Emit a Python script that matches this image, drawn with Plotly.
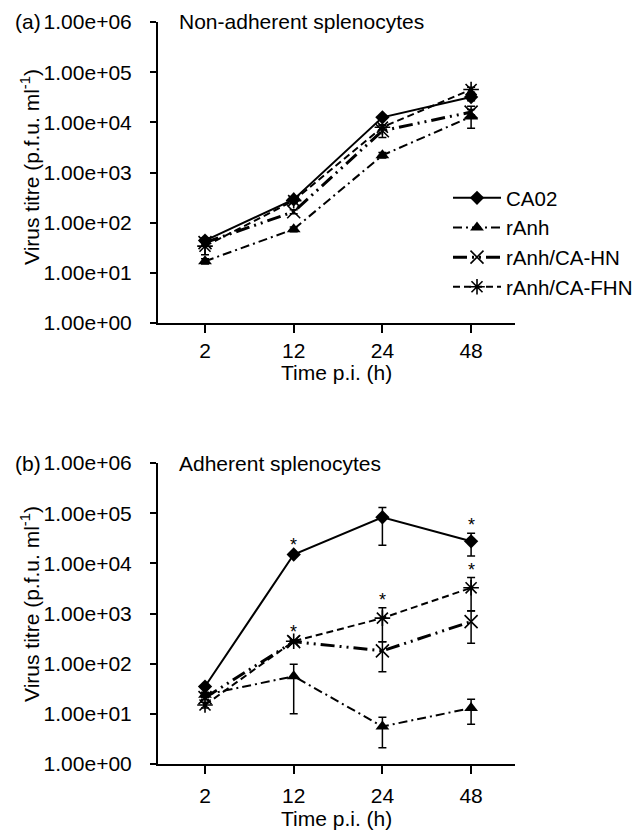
import math
import plotly.graph_objects as go

W, H = 640, 831

times = ["2", "12", "24", "48"]
xpos = [0, 1, 2, 3]
ytick_vals = [1, 10, 100, 1000, 10000, 100000, 1000000]
ytick_text = ["1.00e+00", "1.00e+01", "1.00e+02", "1.00e+03", "1.00e+04", "1.00e+05", "1.00e+06"]

series_names = ["CA02", "rAnh", "rAnh/CA-HN", "rAnh/CA-FHN"]

# Panel (a): non-adherent splenocytes
a_ca02 = [44, 290, 12600, 32000]
a_ca02_up = [50, 320, 13500, 38000]
a_ca02_lo = [39, 260, 11500, 27000]
a_ranh = [17, 74, 2200, 13000]
a_ranh_up = [19, 82, 2500, 21000]
a_ranh_lo = [15, 66, 1950, 7600]
a_hn = [40, 165, 6800, 16000]
a_hn_up = [44, 180, 8500, 18000]
a_hn_lo = [36, 150, 5000, 14000]
a_fhn = [34, 275, 8000, 45000]
a_fhn_up = [50, 300, 9000, 50000]
a_fhn_lo = [23, 250, 7000, 40000]

# Panel (b): adherent splenocytes
b_ca02 = [35, 15000, 83000, 27500]
b_ca02_up = [38, 16000, 130000, 40000]
b_ca02_lo = [32, 14000, 23000, 14000]
b_ranh = [24, 56, 5.6, 13]
b_ranh_up = [27, 97, 8.5, 19.5]
b_ranh_lo = [21, 10, 2.1, 6.2]
b_hn = [21, 275, 180, 690]
b_hn_up = [23, 290, 275, 1120]
b_hn_lo = [19, 260, 69, 255]
b_fhn = [15, 280, 810, 3250]
b_fhn_up = [17, 300, 1300, 5200]
b_fhn_lo = [13, 260, 275, 1130]

# significance markers in panel (b): (series index, time index)
sig_series = [0, 0, 3, 3, 3]
sig_time = [1, 3, 1, 2, 3]

FONT = "Liberation Sans, Arial, Helvetica, sans-serif"
FS = 21

styles = [
    dict(dash="solid", width=2, symbol="diamond", size=11, mline=0),
    dict(dash="9px,4px,2px,4px", width=2, symbol="triangle-up", size=12, mline=0),
    dict(dash="14px,5px,2px,5px,2px,5px", width=3, symbol="x-thin-open", size=13, mline=1.6),
    dict(dash="7px,4px", width=2, symbol="asterisk-open", size=13, mline=1.6),
]

a_data = [(a_ca02, a_ca02_up, a_ca02_lo), (a_ranh, a_ranh_up, a_ranh_lo),
          (a_hn, a_hn_up, a_hn_lo), (a_fhn, a_fhn_up, a_fhn_lo)]
b_data = [(b_ca02, b_ca02_up, b_ca02_lo), (b_ranh, b_ranh_up, b_ranh_lo),
          (b_hn, b_hn_up, b_hn_lo), (b_fhn, b_fhn_up, b_fhn_lo)]

fig = go.Figure()

def add_panel(data, xa, ya, showlegend):
    for i, (vals, up, lo) in enumerate(data):
        st = styles[i]
        fig.add_trace(go.Scatter(
            x=xpos, y=vals, name=series_names[i], mode="lines+markers",
            xaxis=xa, yaxis=ya, showlegend=showlegend,
            line=dict(color="black", width=st["width"], dash=st["dash"]),
            marker=dict(symbol=st["symbol"], size=st["size"], color="black",
                        line=dict(color="black", width=st["mline"])),
            error_y=dict(type="data", symmetric=False,
                         array=[u - v for u, v in zip(up, vals)],
                         arrayminus=[v - l for v, l in zip(vals, lo)],
                         color="black", thickness=1.5, width=4),
        ))

add_panel(a_data, "x", "y", True)
add_panel(b_data, "x2", "y2", False)

def px(x):
    return x / W

def py(y):
    return 1 - y / H

xl, xr = px(150), px(507)
a_top, a_bot = 14, 315
b_top, b_bot = 455, 756

xaxis_common = dict(
    range=[-0.53, 3.495], tickmode="array", tickvals=xpos, ticktext=times,
    showline=True, linecolor="black", linewidth=2, ticks="outside", ticklen=8,
    tickwidth=2, tickcolor="black", showgrid=False, zeroline=False, automargin=False,
    tickfont=dict(family=FONT, size=FS, color="black"), fixedrange=True,
)
yaxis_common = dict(
    type="log", range=[0, 6], tickmode="array", tickvals=ytick_vals, ticktext=ytick_text,
    showline=True, linecolor="black", linewidth=2, ticks="outside", ticklen=6,
    tickwidth=2, tickcolor="black", showgrid=False, zeroline=False, automargin=False,
    ticklabelstandoff=14, ticklabeloverflow="allow",
    tickfont=dict(family=FONT, size=FS, color="black"), fixedrange=True,
)

fig.update_layout(
    template="none",
    width=W, height=H, margin=dict(l=0, r=0, t=0, b=0, autoexpand=False),
    paper_bgcolor="white", plot_bgcolor="white",
    font=dict(family=FONT, size=FS, color="black"),
    xaxis=dict(domain=[xl, xr], anchor="y", ticklabelstandoff=0, **xaxis_common),
    yaxis=dict(domain=[py(a_bot), py(a_top)], anchor="x", **yaxis_common),
    xaxis2=dict(domain=[xl, xr], anchor="y2", ticklabelstandoff=4, **xaxis_common),
    yaxis2=dict(domain=[py(b_bot), py(b_top)], anchor="x2", **yaxis_common),
    legend=dict(x=px(440), y=py(170), xanchor="left", yanchor="top",
                bgcolor="rgba(0,0,0,0)", borderwidth=0,
                font=dict(family=FONT, size=20.5, color="black"),
                itemwidth=48, tracegroupgap=0),
    showlegend=True,
)

ann = []
for lab, title, top, ymid in [("(a)", "Non-adherent splenocytes", a_top, 159),
                              ("(b)", "Adherent splenocytes", b_top, 596)]:
    ann.append(dict(text=lab, x=px(5), y=py(top), xref="paper", yref="paper",
                    xanchor="left", yanchor="middle", showarrow=False,
                    font=dict(family=FONT, size=FS, color="black")))
    ann.append(dict(text=title, x=px(169), y=py(top), xref="paper", yref="paper",
                    xanchor="left", yanchor="middle", showarrow=False,
                    font=dict(family=FONT, size=FS, color="black")))
    ann.append(dict(text="Virus titre (p.f.u. ml<sup>-1</sup>)", x=px(22),
                    y=py(ymid), xref="paper", yref="paper",
                    xanchor="center", yanchor="middle", textangle=-90, showarrow=False,
                    font=dict(family=FONT, size=FS, color="black")))
for ymid in [365, 810]:
    ann.append(dict(text="Time p.i. (h)", x=px((150 + 507) / 2), y=py(ymid),
                    xref="paper", yref="paper", xanchor="center", yanchor="middle",
                    showarrow=False, font=dict(family=FONT, size=FS, color="black")))

for s, t in zip(sig_series, sig_time):
    ann.append(dict(text="*", x=xpos[t], y=math.log10(b_data[s][1][t]),
                    xref="x2", yref="y2", xanchor="center", yanchor="bottom",
                    yshift=-4, showarrow=False,
                    font=dict(family=FONT, size=18, color="black")))

fig.update_layout(annotations=ann)
fig.write_html("out.html")
